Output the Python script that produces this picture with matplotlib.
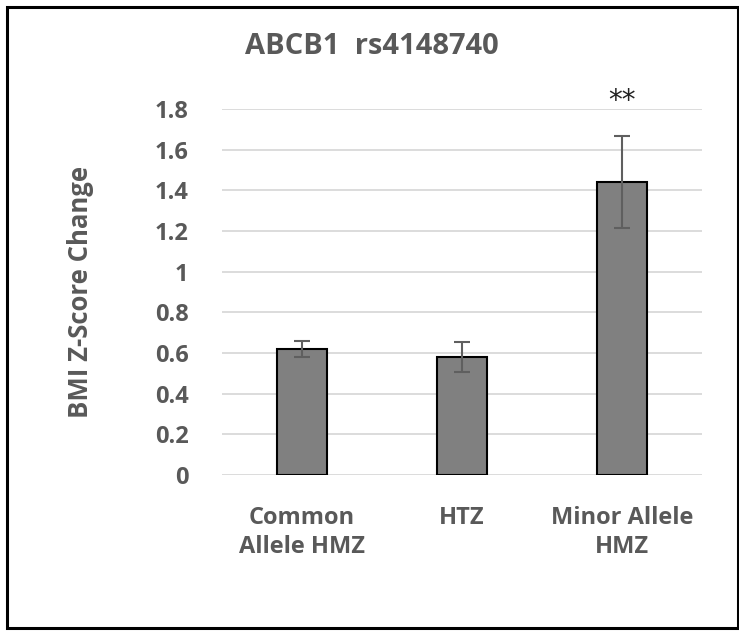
import matplotlib
matplotlib.use("Agg")
import matplotlib.pyplot as plt
from matplotlib.patches import Rectangle

# 数据
categories = ["Common\nAllele HMZ", "HTZ", "Minor Allele\nHMZ"]
values = [0.62, 0.58, 1.44]
errors = [0.04, 0.075, 0.225]
sig_labels = ["", "", "**"]
yticks = [0, 0.2, 0.4, 0.6, 0.8, 1, 1.2, 1.4, 1.6, 1.8]
ytick_labels = ["0", "0.2", "0.4", "0.6", "0.8", "1", "1.2", "1.4", "1.6", "1.8"]

TEXT = "#595959"
plt.rcParams["font.family"] = ["Open Sans", "DejaVu Sans"]

fig = plt.figure(figsize=(7.39, 6.31), dpi=100)
ax = fig.add_axes([222 / 739, 1 - 475 / 631, 480 / 739, 366 / 631])

x = range(len(categories))
ax.bar(x, values, width=0.31, color="#808080", edgecolor="black", linewidth=1.5, zorder=3)
ax.errorbar(x, values, yerr=errors, fmt="none", ecolor="#5f5f5f", elinewidth=1.5,
            capsize=6, capthick=1.5, zorder=4)
for xi, s in zip(x, sig_labels):
    if s:
        ax.text(xi, 1.77, s, ha="center", va="bottom", fontsize=20, color="#222222",
                family="DejaVu Sans")

ax.set_xlim(-0.5, 2.5)
ax.set_ylim(0, 1.8)
ax.set_yticks(yticks)
ax.set_yticklabels(ytick_labels)
ax.set_xticks(list(x))
ax.set_xticklabels(categories)
for t in ax.get_yticklabels() + ax.get_xticklabels():
    t.set_fontweight("bold")
    t.set_color(TEXT)
    t.set_fontsize(17)
ax.tick_params(axis="both", length=0)
ax.tick_params(axis="y", pad=24)
ax.tick_params(axis="x", pad=22)
for sp in ax.spines.values():
    sp.set_visible(False)
ax.grid(axis="y", color="#d9d9d9", linewidth=1.3, zorder=0)
ax.set_axisbelow(True)
for lbl in ax.get_xticklabels():
    lbl.set_linespacing(1.3)

ax.set_ylabel("BMI Z-Score Change", fontsize=18.5, fontweight="bold", color=TEXT, labelpad=44)
fig.text(372 / 739, 1 - 47 / 631, "ABCB1  rs4148740", ha="center", va="center",
         fontsize=21, fontweight="bold", color=TEXT)

fig.patches.append(Rectangle((6.5 / 739, 1 - 628 / 631), 731 / 739, 621 / 631,
                             transform=fig.transFigure, fill=False,
                             edgecolor="black", linewidth=2.2))

fig.savefig("out.png", dpi=100)
